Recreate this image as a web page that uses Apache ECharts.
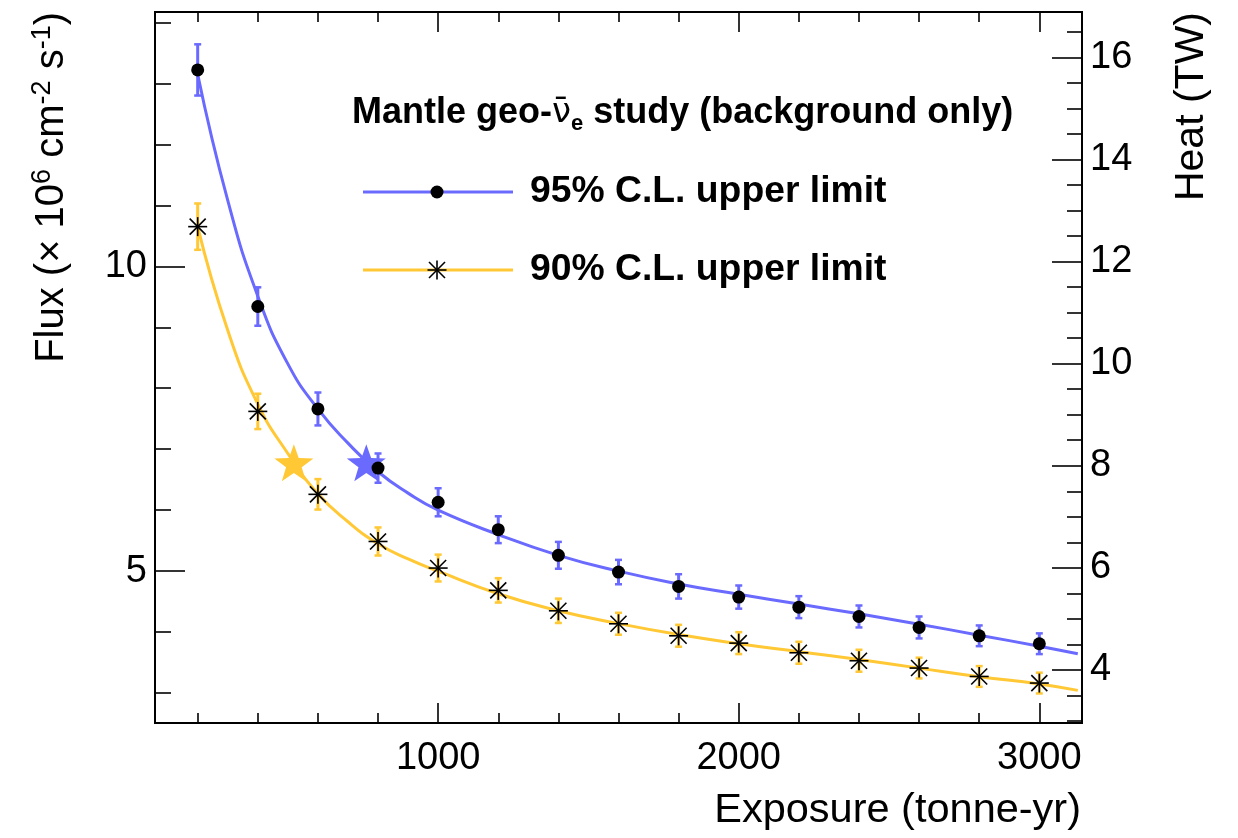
<!DOCTYPE html>
<html>
<head>
<meta charset="utf-8">
<title>Mantle geo-neutrino upper limits</title>
<script src="https://cdn.jsdelivr.net/npm/echarts@6/dist/echarts.min.js"></script>
<style>
  html, body { margin: 0; padding: 0; background: #fff; }
  #chart { width: 1238px; height: 838px; }
</style>
</head>
<body>
<div id="chart"></div>
<script>
// ---- data -------------------------------------------------------------
// exposure values (tonne-yr) of the simulated points
const EXPOSURE = [200, 400, 600, 800, 1000, 1200, 1400, 1600, 1800, 2000, 2200, 2400, 2600, 2800, 3000];

// 95% C.L. upper limits on flux (x 10^6 cm^-2 s^-1) and their uncertainties
const UL95 = [13.22, 9.34, 7.66, 6.69, 6.13, 5.68, 5.26, 4.985, 4.75, 4.575, 4.41, 4.257, 4.077, 3.94, 3.81];
const UL95_ERR = [0.42, 0.315, 0.27, 0.24, 0.23, 0.22, 0.22, 0.20, 0.20, 0.19, 0.18, 0.18, 0.18, 0.17, 0.17];

// 90% C.L. upper limits and their uncertainties
const UL90 = [10.65, 7.62, 6.26, 5.487, 5.051, 4.685, 4.35, 4.137, 3.94, 3.82, 3.662, 3.531, 3.411, 3.273, 3.165];
const UL90_ERR = [0.38, 0.29, 0.25, 0.23, 0.22, 0.20, 0.20, 0.18, 0.18, 0.18, 0.18, 0.18, 0.17, 0.17, 0.17];

// fitted trend curves, sampled along exposure
const FIT_X = [200, 300, 400, 500, 600, 700, 800, 900, 1000, 1200, 1400, 1600, 1800, 2000, 2200, 2400, 2600, 2800, 3000, 3128];
const FIT95_Y = [13.15, 11.08, 9.51, 8.40, 7.66, 7.10, 6.63, 6.28, 6.00, 5.60, 5.26, 5.00, 4.79, 4.62, 4.46, 4.30, 4.13, 3.95, 3.77, 3.645];
const FIT90_Y = [10.65, 8.95, 7.74, 6.93, 6.27, 5.81, 5.45, 5.20, 5.00, 4.63, 4.35, 4.14, 3.96, 3.81, 3.68, 3.55, 3.41, 3.27, 3.15, 3.045];

// exposure at which each fit reaches the marked flux level
const MARK95 = [761, 6.81];
const MARK90 = [520, 6.81];

// axis ranges and ticks
const X_RANGE = [58, 3142];
const FLUX_RANGE = [2.51, 14.17];
const HEAT_RANGE = [2.962, 16.887];
const X_MAJOR = [1000, 2000, 3000];
const X_MINOR = [200, 400, 600, 800, 1200, 1400, 1600, 1800, 2200, 2400, 2600, 2800];
const FLUX_MAJOR = [5, 10];
const FLUX_MINOR = [3, 4, 6, 7, 8, 9, 11, 12, 13, 14];
const HEAT_MAJOR = [4, 6, 8, 10, 12, 14, 16];
const HEAT_MINOR = [3, 3.5, 4.5, 5, 5.5, 6.5, 7, 7.5, 8.5, 9, 9.5, 10.5, 11, 11.5, 12.5, 13, 13.5, 14.5, 15, 15.5, 16.5];

// ---- style ------------------------------------------------------------
const BLUE = '#6a6aff';
const YELLOW = '#ffc834';
const FONT = '"Liberation Sans", Arial, Helvetica, sans-serif';
const STAR = 'path://M0,-50L11.8,-16.2L47.6,-15.5L19.1,6.2L29.4,40.5L0,20L-29.4,40.5L-19.1,6.2L-47.6,-15.5L-11.8,-16.2Z';

const zip = (a, b) => a.map((v, i) => [v, b[i]]);
const zip3 = (a, b, c) => a.map((v, i) => [v, b[i], c[i]]);

function tickAxis(position, values, len, labels, range) {
  return {
    type: 'value',
    position: position,
    min: range[0],
    max: range[1],
    axisLine: { show: false },
    splitLine: { show: false },
    axisTick: { show: true, inside: true, length: len, customValues: values,
                lineStyle: { color: '#000', width: 1.6 } },
    axisLabel: labels
      ? { show: true, customValues: values, color: '#000', fontFamily: FONT, fontSize: 38,
          formatter: (v) => String(v) }
      : { show: false }
  };
}

function errorBars(color) {
  return function (params, api) {
    const x = api.value(0), y = api.value(1), e = api.value(2);
    const hi = api.coord([x, y + e]);
    const lo = api.coord([x, y - e]);
    const c = 3.5;
    const cap = { stroke: color, lineWidth: 2.5 };
    return {
      type: 'group',
      children: [
        { type: 'line', shape: { x1: hi[0], y1: hi[1], x2: lo[0], y2: lo[1] }, style: { stroke: color, lineWidth: 3 } },
        { type: 'line', shape: { x1: hi[0] - c, y1: hi[1], x2: hi[0] + c, y2: hi[1] }, style: cap },
        { type: 'line', shape: { x1: lo[0] - c, y1: lo[1], x2: lo[0] + c, y2: lo[1] }, style: cap }
      ]
    };
  };
}

function asteriskShapes(cx, cy, r, d) {
  const st = { stroke: '#000', lineWidth: 1.6 };
  return [
    { type: 'line', shape: { x1: cx - r, y1: cy, x2: cx + r, y2: cy }, style: st },
    { type: 'line', shape: { x1: cx, y1: cy - r, x2: cx, y2: cy + r }, style: st },
    { type: 'line', shape: { x1: cx - d, y1: cy - d, x2: cx + d, y2: cy + d }, style: st },
    { type: 'line', shape: { x1: cx - d, y1: cy + d, x2: cx + d, y2: cy - d }, style: st }
  ];
}

function asterisks(params, api) {
  const p = api.coord([api.value(0), api.value(1)]);
  return { type: 'group', children: asteriskShapes(p[0], p[1], 9.5, 8) };
}

const chart = echarts.init(document.getElementById('chart'), null, { renderer: 'canvas' });

const xAxes = [
  tickAxis('bottom', X_MAJOR, 20, true, X_RANGE),
  tickAxis('bottom', X_MINOR, 10, false, X_RANGE),
  tickAxis('top', X_MAJOR, 20, false, X_RANGE),
  tickAxis('top', X_MINOR, 10, false, X_RANGE)
];
const yAxes = [
  tickAxis('left', FLUX_MAJOR, 30, true, FLUX_RANGE),
  tickAxis('left', FLUX_MINOR, 16, false, FLUX_RANGE),
  tickAxis('right', HEAT_MAJOR, 30, true, HEAT_RANGE),
  tickAxis('right', HEAT_MINOR, 15, false, HEAT_RANGE)
];
xAxes[0].axisLabel.margin = 17;
yAxes[0].axisLabel.margin = 8;
yAxes[2].axisLabel.margin = 8;

const option = {
  backgroundColor: '#fff',
  animation: false,
  grid: {
    left: 155, right: 156, top: 12, bottom: 115,
    show: true, borderColor: '#000', borderWidth: 2, backgroundColor: 'transparent'
  },
  xAxis: xAxes,
  yAxis: yAxes,
  series: [
    {
      name: '95% fit', type: 'line', xAxisIndex: 0, yAxisIndex: 0,
      data: zip(FIT_X, FIT95_Y), smooth: 0.5,
      showSymbol: false, symbol: 'none',
      lineStyle: { color: BLUE, width: 3 }, z: 2
    },
    {
      name: '90% fit', type: 'line', xAxisIndex: 0, yAxisIndex: 0,
      data: zip(FIT_X, FIT90_Y), smooth: 0.5,
      showSymbol: false, symbol: 'none',
      lineStyle: { color: YELLOW, width: 3 }, z: 2
    },
    {
      name: '95% mark', type: 'scatter', xAxisIndex: 0, yAxisIndex: 0,
      data: [MARK95], symbol: STAR, symbolSize: [39, 37], symbolOffset: [0, 2],
      itemStyle: { color: BLUE, opacity: 1 }, z: 3
    },
    {
      name: '90% mark', type: 'scatter', xAxisIndex: 0, yAxisIndex: 0,
      data: [MARK90], symbol: STAR, symbolSize: [39, 37], symbolOffset: [0, 2],
      itemStyle: { color: YELLOW, opacity: 1 }, z: 3
    },
    {
      name: '95% errors', type: 'custom', xAxisIndex: 0, yAxisIndex: 0,
      data: zip3(EXPOSURE, UL95, UL95_ERR), encode: { x: 0, y: 1 },
      renderItem: errorBars(BLUE), z: 4
    },
    {
      name: '90% errors', type: 'custom', xAxisIndex: 0, yAxisIndex: 0,
      data: zip3(EXPOSURE, UL90, UL90_ERR), encode: { x: 0, y: 1 },
      renderItem: errorBars(YELLOW), z: 4
    },
    {
      name: '95% C.L. upper limit', type: 'scatter', xAxisIndex: 0, yAxisIndex: 0,
      data: zip(EXPOSURE, UL95), symbol: 'circle', symbolSize: 13,
      itemStyle: { color: '#000', opacity: 1 }, z: 5
    },
    {
      name: '90% C.L. upper limit', type: 'custom', xAxisIndex: 0, yAxisIndex: 0,
      data: zip(EXPOSURE, UL90), encode: { x: 0, y: 1 },
      renderItem: asterisks, z: 5
    }
  ],
  graphic: [
    // axis titles
    {
      type: 'text', x: 52, y: 12, rotation: Math.PI / 2,
      style: {
        text: '{t|Flux (× 10}{s|6}{t| cm}{s|-2}{t| s}{s|-1}{t|)}',
        align: 'right', verticalAlign: 'middle', fill: '#000',
        rich: {
          t: { fontFamily: FONT, fontSize: 40, lineHeight: 46, fill: '#000' },
          s: { fontFamily: FONT, fontSize: 27, lineHeight: 27, verticalAlign: 'top', fill: '#000' }
        }
      }
    },
    {
      type: 'text', x: 1192, y: 12, rotation: Math.PI / 2,
      style: { text: 'Heat (TW)', align: 'right', verticalAlign: 'middle',
               fontFamily: FONT, fontSize: 41, fill: '#000' }
    },
    {
      type: 'text', x: 1081, y: 811,
      style: { text: 'Exposure (tonne-yr)', align: 'right', verticalAlign: 'middle',
               fontFamily: FONT, fontSize: 41.5, fill: '#000' }
    },
    // header
    {
      type: 'text', x: 352, y: 113,
      style: {
        text: '{b|Mantle geo-}{n|ν\u0304}{e|e}{b| study (background only)}',
        align: 'left', verticalAlign: 'middle',
        rich: {
          b: { fontFamily: FONT, fontWeight: 'bold', fontSize: 36, lineHeight: 44, fill: '#000' },
          n: { fontFamily: '"DejaVu Sans", sans-serif', fontSize: 34, lineHeight: 44, fill: '#000' },
          e: { fontFamily: FONT, fontWeight: 'bold', fontSize: 22, lineHeight: 22, verticalAlign: 'bottom', fill: '#000' }
        }
      }
    },
    // key: 95%
    { type: 'line', shape: { x1: 363, y1: 192, x2: 513, y2: 192 }, style: { stroke: BLUE, lineWidth: 3 } },
    { type: 'circle', shape: { cx: 437, cy: 192, r: 6.5 }, style: { fill: '#000' } },
    {
      type: 'text', x: 530, y: 192,
      style: { text: '95% C.L. upper limit', align: 'left', verticalAlign: 'middle',
               fontFamily: FONT, fontWeight: 'bold', fontSize: 37.3, fill: '#000' }
    },
    // key: 90%
    { type: 'line', shape: { x1: 363, y1: 270, x2: 513, y2: 270 }, style: { stroke: YELLOW, lineWidth: 3 } },
    { type: 'group', children: asteriskShapes(437, 270, 9.5, 8) },
    {
      type: 'text', x: 530, y: 270,
      style: { text: '90% C.L. upper limit', align: 'left', verticalAlign: 'middle',
               fontFamily: FONT, fontWeight: 'bold', fontSize: 37.3, fill: '#000' }
    }
  ]
};

chart.setOption(option);
</script>
</body>
</html>
